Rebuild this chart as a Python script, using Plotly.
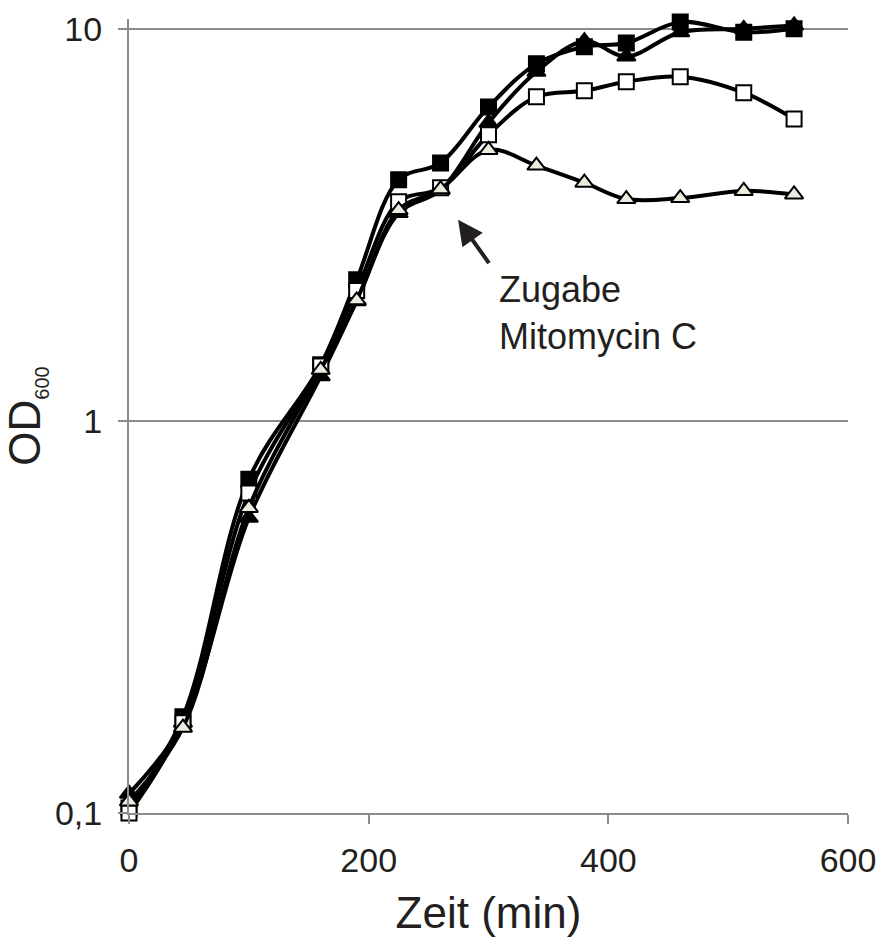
import math
import plotly.graph_objects as go

time_min = [0, 45, 100, 160, 190, 225, 260, 300, 340, 380, 415, 460, 513, 555]

od_filled_square = [0.103, 0.176, 0.71, 1.39, 2.29, 4.12, 4.55, 6.32, 8.14, 9.0, 9.2, 10.4, 9.8, 10.0]
od_filled_triangle = [0.112, 0.17, 0.566, 1.3, 2.02, 3.39, 3.88, 5.76, 7.77, 9.3, 8.5, 9.8, 10.0, 10.2]
od_open_square = [0.100, 0.17, 0.655, 1.38, 2.15, 3.62, 3.93, 5.37, 6.71, 6.95, 7.33, 7.55, 6.87, 5.89]
od_open_triangle = [0.107, 0.165, 0.60, 1.35, 2.03, 3.45, 3.9, 4.91, 4.48, 4.05, 3.68, 3.70, 3.86, 3.78]

x_ticks = [0, 200, 400, 600]
y_ticks = [0.1, 1, 10]
y_tick_labels = ["0,1", "1", "10"]

arrow_tip = (274.6, 3.26)
label_pos = (307, 1.88)

FONT = "Liberation Sans, Arial, sans-serif"
TXT = "#231f20"
GRAY = "#8c8c8c"

fig = go.Figure()

series = [
    (od_filled_square, "square", "#000000", 15),
    (od_filled_triangle, "triangle-up", "#000000", 16),
    (od_open_square, "square", "#ffffff", 15),
    (od_open_triangle, "triangle-up", "#ecebe0", 16),
]
for ys, sym, fill, size in series:
    fig.add_trace(go.Scatter(
        x=time_min, y=ys, mode="lines+markers",
        line=dict(color="#000000", width=4, shape="spline", smoothing=1.0),
        marker=dict(symbol=sym, size=size, color=fill,
                    line=dict(color="#000000", width=2)),
        showlegend=False, cliponaxis=False,
    ))

fig.add_annotation(
    x=arrow_tip[0], y=math.log10(arrow_tip[1]), xref="x", yref="y", text="",
    showarrow=True, arrowhead=2, arrowsize=1.25, arrowwidth=4,
    arrowcolor=TXT, ax=32, ay=45,
)
fig.add_annotation(
    x=label_pos[0], y=math.log10(label_pos[1]), xref="x", yref="y",
    text="Zugabe<br>Mitomycin C", showarrow=False,
    xanchor="left", yanchor="middle", align="left",
    font=dict(family=FONT, size=36, color=TXT),
)

fig.update_layout(
    width=878, height=939,
    margin=dict(l=129, r=30, t=19, b=126),
    paper_bgcolor="white", plot_bgcolor="white",
    font=dict(family=FONT, color=TXT),
)
fig.update_xaxes(
    range=[0, 600], tickvals=x_ticks, ticktext=[str(v) for v in x_ticks],
    showgrid=False, zeroline=False, automargin=False,
    showline=True, linecolor=GRAY, linewidth=2,
    ticks="outside", ticklen=9, tickwidth=2, tickcolor=GRAY,
    ticklabelstandoff=7,
    tickfont=dict(family=FONT, size=34, color=TXT),
    title=dict(text="Zeit (min)", font=dict(family=FONT, size=44, color=TXT), standoff=19),
)
fig.update_yaxes(
    type="log", range=[-1, 1.025], tickvals=y_ticks, ticktext=y_tick_labels,
    showgrid=True, gridcolor=GRAY, gridwidth=2, zeroline=False, automargin=False,
    showline=True, linecolor=GRAY, linewidth=2,
    ticks="outside", ticklen=9, tickwidth=2, tickcolor=GRAY,
    ticklabelstandoff=9,
    tickfont=dict(family=FONT, size=34, color=TXT),
    title=dict(text='OD<sub><span style="font-size:20px">600</span></sub>',
               font=dict(family=FONT, size=44, color=TXT), standoff=10),
)

fig.write_html("out.html")
